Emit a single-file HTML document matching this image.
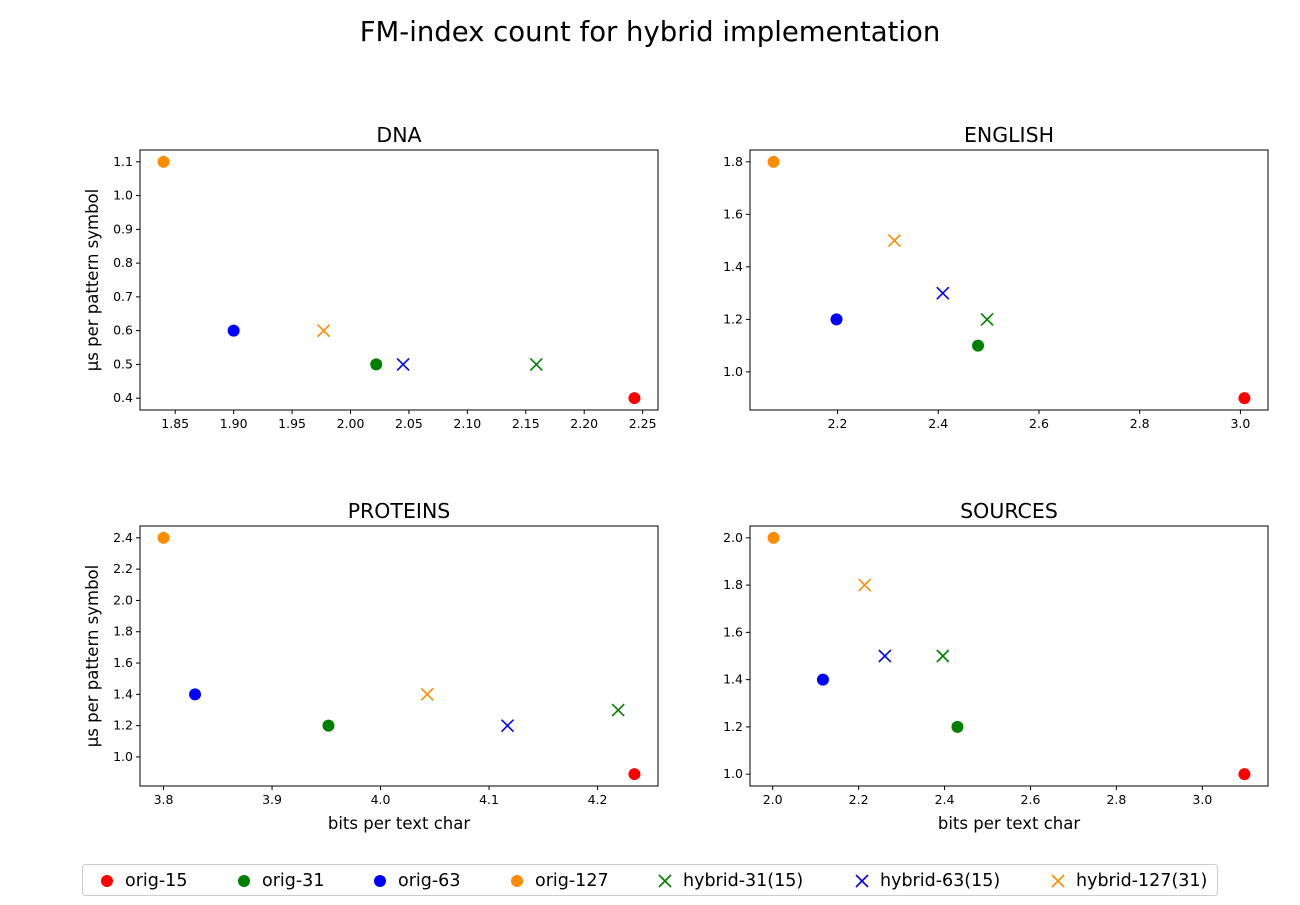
<!DOCTYPE html>
<html><head><meta charset="utf-8"><style>
html,body{margin:0;padding:0;background:#fff;}
svg text{font-family:"DejaVu Sans","Liberation Sans",sans-serif;}
</style></head><body>
<svg id="chart" width="1300" height="900" xmlns="http://www.w3.org/2000/svg">
<text x="650" y="41" font-size="27.5" text-anchor="middle">FM-index count for hybrid implementation</text>
<g id="panels"></g>
<g id="legend"></g>
</svg>
<script>
const seriesNames = ["orig-15","orig-31","orig-63","orig-127","hybrid-31(15)","hybrid-63(15)","hybrid-127(31)"];
const seriesColors = ["#ff0000","#008000","#0000ff","#ff8c00","#008000","#0000ff","#ff8c00"];
const seriesMarkers = ["o","o","o","o","x","x","x"];
const panelTitles = ["DNA","ENGLISH","PROTEINS","SOURCES"];
const dnaX = [2.243,2.022,1.900,1.840,2.159,2.045,1.977];
const dnaY = [0.4,0.5,0.6,1.1,0.5,0.5,0.6];
const englishX = [3.008,2.479,2.198,2.073,2.497,2.409,2.313];
const englishY = [0.9,1.1,1.2,1.8,1.2,1.3,1.5];
const proteinsX = [4.234,3.952,3.829,3.800,4.219,4.117,4.043];
const proteinsY = [0.89,1.2,1.4,2.4,1.3,1.2,1.4];
const sourcesX = [3.098,2.430,2.117,2.002,2.396,2.261,2.214];
const sourcesY = [1.0,1.2,1.4,2.0,1.5,1.5,1.8];
const dnaXTicks = ["1.85","1.90","1.95","2.00","2.05","2.10","2.15","2.20","2.25"];
const dnaYTicks = ["0.4","0.5","0.6","0.7","0.8","0.9","1.0","1.1"];
const englishXTicks = ["2.2","2.4","2.6","2.8","3.0"];
const englishYTicks = ["1.0","1.2","1.4","1.6","1.8"];
const proteinsXTicks = ["3.8","3.9","4.0","4.1","4.2"];
const proteinsYTicks = ["1.0","1.2","1.4","1.6","1.8","2.0","2.2","2.4"];
const sourcesXTicks = ["2.0","2.2","2.4","2.6","2.8","3.0"];
const sourcesYTicks = ["1.0","1.2","1.4","1.6","1.8","2.0"];

const NS="http://www.w3.org/2000/svg";
function mk(tag,attrs,parent){const e=document.createElementNS(NS,tag);for(const k in attrs)e.setAttribute(k,attrs[k]);parent.appendChild(e);return e;}
function marker(g,type,cx,cy,color,name){
  if(type==="o"){const c=mk("circle",{cx:cx,cy:cy,r:6,fill:color},g);
    
    }
  else{const p=mk("path",{d:`M${cx-6},${cy-6}L${cx+6},${cy+6}M${cx-6},${cy+6}L${cx+6},${cy-6}`,stroke:color,"stroke-width":1.6,fill:"none"},g);
    
    }
}
const panels=[
 {xs:dnaX,ys:dnaY,xt:dnaXTicks,yt:dnaYTicks,L:140,T:150,ylab:true,xlab:false},
 {xs:englishX,ys:englishY,xt:englishXTicks,yt:englishYTicks,L:750,T:150,ylab:false,xlab:false},
 {xs:proteinsX,ys:proteinsY,xt:proteinsXTicks,yt:proteinsYTicks,L:140,T:526,ylab:true,xlab:true},
 {xs:sourcesX,ys:sourcesY,xt:sourcesXTicks,yt:sourcesYTicks,L:750,T:526,ylab:false,xlab:true}];
const W=518,H=260;
const root=document.getElementById("panels");
panels.forEach((p,i)=>{
  const g=mk("g",{},root);
  
  
  const xmin=Math.min(...p.xs),xmax=Math.max(...p.xs),ymin=Math.min(...p.ys),ymax=Math.max(...p.ys);
  const x0=xmin-(xmax-xmin)*0.05,x1=xmax+(xmax-xmin)*0.05;
  const y0=ymin-(ymax-ymin)*0.05,y1=ymax+(ymax-ymin)*0.05;
  const sx=v=>p.L+(v-x0)/(x1-x0)*W, sy=v=>p.T+H-(v-y0)/(y1-y0)*H;
  const t=mk("text",{x:p.L+W/2,y:p.T-8,"font-size":20.5,"text-anchor":"middle"},g);t.textContent=panelTitles[i];
  
  
  p.xt.forEach(s=>{const x=sx(parseFloat(s));
    mk("line",{x1:x,x2:x,y1:p.T+H,y2:p.T+H+4,stroke:"#000"},g);
    const tx=mk("text",{x:x,y:p.T+H+18,"font-size":12.5,"text-anchor":"middle"},g);tx.textContent=s;
    
    });
  p.yt.forEach(s=>{const y=sy(parseFloat(s));
    mk("line",{x1:p.L-4,x2:p.L,y1:y,y2:y,stroke:"#000"},g);
    const ty=mk("text",{x:p.L-7,y:y+4,"font-size":12.5,"text-anchor":"end"},g);ty.textContent=s;
    
    });
  p.xs.forEach((v,k)=>marker(g,seriesMarkers[k],sx(v),sy(p.ys[k]),seriesColors[k],'point-'+seriesNames[k]));
  const fr=mk("rect",{x:p.L,y:p.T,width:W,height:H,fill:"none",stroke:"#000","stroke-width":1},g);
  
  
  if(p.ylab){const yl=mk("text",{x:0,y:0,"font-size":16.5,"text-anchor":"middle",transform:`translate(${p.L-42},${p.T+H/2}) rotate(-90)`},g);
    yl.textContent="µs per pattern symbol";
    
    }
  if(p.xlab){const xl=mk("text",{x:p.L+W/2,y:p.T+H+43,"font-size":16.5,"text-anchor":"middle"},g);
    xl.textContent="bits per text char";
    
    }
});
const lg=document.getElementById("legend");
mk("rect",{x:82.5,y:864.5,width:1135,height:31,rx:3,fill:"#fff",stroke:"#ccc"},lg);
const lx=[107,244,380,517,665,862,1058];
seriesNames.forEach((n,k)=>{
  const e=mk("g",{},lg);
  
  
  marker(e,seriesMarkers[k],lx[k],881,seriesColors[k],'legend-marker');
  const t=mk("text",{x:lx[k]+18,y:886,"font-size":17.5},e);t.textContent=n;
});
</script>
</body></html>
